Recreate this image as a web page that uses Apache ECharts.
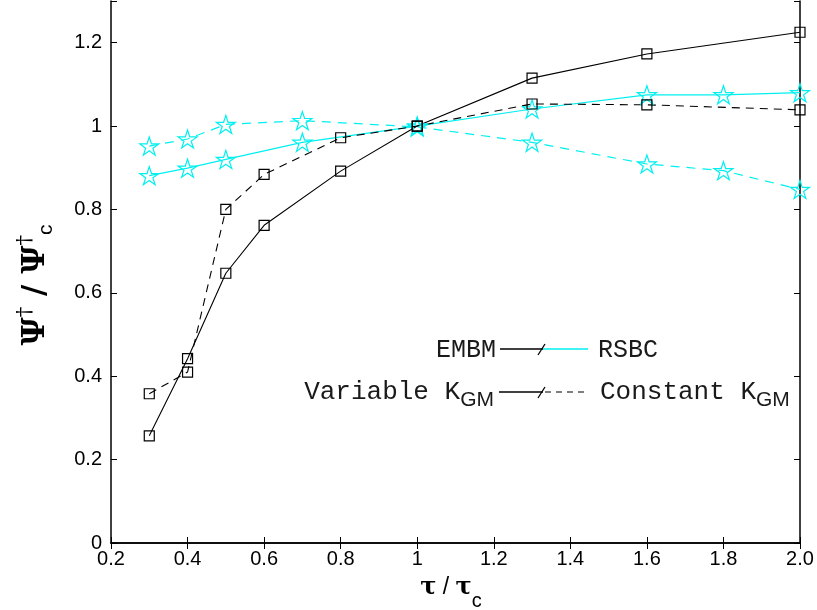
<!DOCTYPE html>
<html>
<head>
<meta charset="utf-8" />
<title></title>
<script src="https://cdn.jsdelivr.net/npm/echarts@6/dist/echarts.min.js"></script>
<style>
  body { padding: 0; margin: 0; background: #fff; }
</style>
</head>
<body>
<div id="main" style="width: 817px; height: 610px;"></div>
<script type="text/javascript">
// data
var embmX = [0.3, 0.4, 0.5, 0.6, 0.8, 1.0, 1.3, 1.6, 2.0];
var embmVariable = [0.257, 0.442, 0.647, 0.762, 0.892, 1.0, 1.115, 1.173, 1.225];
var embmConstant = [0.358, 0.41, 0.80, 0.884, 0.972, 1.0, 1.053, 1.051, 1.039];
var rsbcX = [0.3, 0.4, 0.5, 0.7, 1.0, 1.3, 1.6, 1.8, 2.0];
var rsbcVariable = [0.881, 0.899, 0.920, 0.961, 1.0, 1.041, 1.075, 1.075, 1.080];
var rsbcConstant = [0.952, 0.969, 1.004, 1.013, 0.998, 0.961, 0.909, 0.893, 0.848];

var xTicks = [0.2, 0.4, 0.6, 0.8, 1, 1.2, 1.4, 1.6, 1.8, 2.0];
var yTicks = [0, 0.2, 0.4, 0.6, 0.8, 1, 1.2];

var CYAN = '#00f0f0';
var star = 'path://M100 0 L122.45 69.1 L195.1 69.1 L136.3 111.8 L158.8 180.9 L100 138.2 L41.2 180.9 L63.7 111.8 L4.9 69.1 L77.55 69.1 Z';

function pairs(xs, ys) {
  return xs.map(function (x, i) { return [x, ys[i]]; });
}

function xLabel(v) {
  var r = Math.round(v * 10) / 10;
  if (r === 2) return '2.0';
  return xTicks.indexOf(r) >= 0 ? String(r) : '';
}
function yLabel(v) {
  var r = Math.round(v * 10) / 10;
  return yTicks.indexOf(r) >= 0 && v <= 1.21 ? String(r) : '';
}

var font = 'Liberation Sans, Arial, sans-serif';
var serif = 'DejaVu Serif, serif';
var mono = 'Liberation Mono, Courier New, monospace';

function sq(color) {
  return { color: 'rgba(255,255,255,0)', borderColor: color, borderWidth: 1.2 };
}

var mychart = echarts.init(document.getElementById('main'));
mychart.setOption({
  animation: false,
  backgroundColor: '#fff',
  grid: { left: 111, right: 17, top: 1, bottom: 67 },
  xAxis: [
    {
      type: 'value', min: 0.2, max: 2.0, interval: 0.2,
      axisLine: { lineStyle: { color: '#000', width: 1.5 } },
      axisTick: { inside: true, length: 6, lineStyle: { color: '#000' } },
      axisLabel: { formatter: xLabel, color: '#000', fontSize: 20, fontFamily: font, margin: 6 },
      splitLine: { show: false }
    },
    {
      type: 'value', position: 'top', min: 0.2, max: 2.0, interval: 0.2,
      axisLine: { lineStyle: { color: '#000', width: 1.5 } },
      axisTick: { inside: true, length: 6, lineStyle: { color: '#000' } },
      axisLabel: { show: false },
      splitLine: { show: false }
    }
  ],
  yAxis: [
    {
      type: 'value', min: 0, max: 1.3, interval: 0.2,
      axisLine: { lineStyle: { color: '#000', width: 1.5 } },
      axisTick: { inside: true, length: 6, lineStyle: { color: '#000' } },
      axisLabel: { formatter: yLabel, color: '#000', fontSize: 20, fontFamily: font, margin: 9 },
      splitLine: { show: false }
    },
    {
      type: 'value', position: 'right', min: 0, max: 1.3, interval: 0.2,
      axisLine: { lineStyle: { color: '#000', width: 1.5 } },
      axisTick: { inside: true, length: 6, lineStyle: { color: '#000' } },
      axisLabel: { show: false },
      splitLine: { show: false }
    }
  ],
  series: [
    {
      name: 'RSBC constant', type: 'line', data: pairs(rsbcX, rsbcConstant),
      symbol: star, symbolKeepAspect: true, symbolSize: 19,
      lineStyle: { color: CYAN, width: 1.2, type: [9, 7] },
      itemStyle: sq(CYAN)
    },
    {
      name: 'RSBC variable', type: 'line', data: pairs(rsbcX, rsbcVariable),
      symbol: star, symbolKeepAspect: true, symbolSize: 19,
      lineStyle: { color: CYAN, width: 1.2 },
      itemStyle: sq(CYAN)
    },
    {
      name: 'EMBM constant', type: 'line', data: pairs(embmX, embmConstant),
      symbol: 'rect', symbolSize: 10,
      lineStyle: { color: '#000', width: 1.1, type: [8, 6] },
      itemStyle: sq('#000')
    },
    {
      name: 'EMBM variable', type: 'line', data: pairs(embmX, embmVariable),
      symbol: 'rect', symbolSize: 10,
      lineStyle: { color: '#000', width: 1.1 },
      itemStyle: sq('#000')
    }
  ],
  graphic: [
    // y axis title
    {
      type: 'text', x: 36, y: 285, rotation: Math.PI / 2,
      style: {
        text: '{a|Ψ}{s|†}{a| / Ψ}{s|†}{b|c}',
        align: 'center', verticalAlign: 'middle', fill: '#000',
        rich: {
          a: { fontSize: 31, fontFamily: serif, fontWeight: 'bold', lineHeight: 42, verticalAlign: 'middle' },
          s: { fontSize: 21, fontFamily: serif, verticalAlign: 'top' },
          b: { fontSize: 21, fontFamily: font, verticalAlign: 'bottom' }
        }
      }
    },
    // x axis title
    {
      type: 'text', x: 451, y: 588,
      style: {
        text: '{a|τ}{n| / }{a|τ}{b|c}',
        align: 'center', verticalAlign: 'middle', fill: '#000',
        rich: {
          a: { fontSize: 24, fontFamily: serif, fontWeight: 'bold', lineHeight: 34, verticalAlign: 'middle' },
          n: { fontSize: 23, fontFamily: font, lineHeight: 34, verticalAlign: 'middle' },
          b: { fontSize: 20, fontFamily: font, verticalAlign: 'bottom', padding: [0, 0, -6, 0] }
        }
      }
    },
    // legend row 1
    { type: 'text', x: 496, y: 350, style: { text: 'EMBM', font: '25px ' + mono, align: 'right', verticalAlign: 'middle', fill: '#1a1a1a' } },
    { type: 'line', shape: { x1: 500, y1: 349, x2: 543, y2: 349 }, style: { stroke: '#000', lineWidth: 1.3 } },
    { type: 'line', shape: { x1: 543, y1: 349, x2: 588, y2: 349 }, style: { stroke: CYAN, lineWidth: 1.3 } },
    { type: 'line', shape: { x1: 538, y1: 355, x2: 545, y2: 344 }, style: { stroke: '#000', lineWidth: 1.3 } },
    { type: 'text', x: 598, y: 350, style: { text: 'RSBC', font: '25px ' + mono, align: 'left', verticalAlign: 'middle', fill: '#1a1a1a' } },
    // legend row 2
    {
      type: 'text', x: 494, y: 392,
      style: {
        text: '{m|Variable K}{g|GM}', align: 'right', verticalAlign: 'middle', fill: '#1a1a1a',
        rich: {
          m: { fontSize: 26, fontFamily: mono, lineHeight: 28, verticalAlign: 'middle' },
          g: { fontSize: 21, fontFamily: font, verticalAlign: 'bottom', padding: [0, 0, -5, 0] }
        }
      }
    },
    { type: 'line', shape: { x1: 499, y1: 392, x2: 543, y2: 392 }, style: { stroke: '#000', lineWidth: 1.3 } },
    { type: 'line', shape: { x1: 545, y1: 392, x2: 588, y2: 392 }, style: { stroke: '#000', lineWidth: 1.2, lineDash: [6, 5] } },
    { type: 'line', shape: { x1: 538, y1: 398, x2: 545, y2: 387 }, style: { stroke: '#000', lineWidth: 1.3 } },
    {
      type: 'text', x: 600, y: 392,
      style: {
        text: '{m|Constant K}{g|GM}', align: 'left', verticalAlign: 'middle', fill: '#1a1a1a',
        rich: {
          m: { fontSize: 26, fontFamily: mono, lineHeight: 28, verticalAlign: 'middle' },
          g: { fontSize: 21, fontFamily: font, verticalAlign: 'bottom', padding: [0, 0, -5, 0] }
        }
      }
    }
  ]
});
</script>
</body>
</html>
